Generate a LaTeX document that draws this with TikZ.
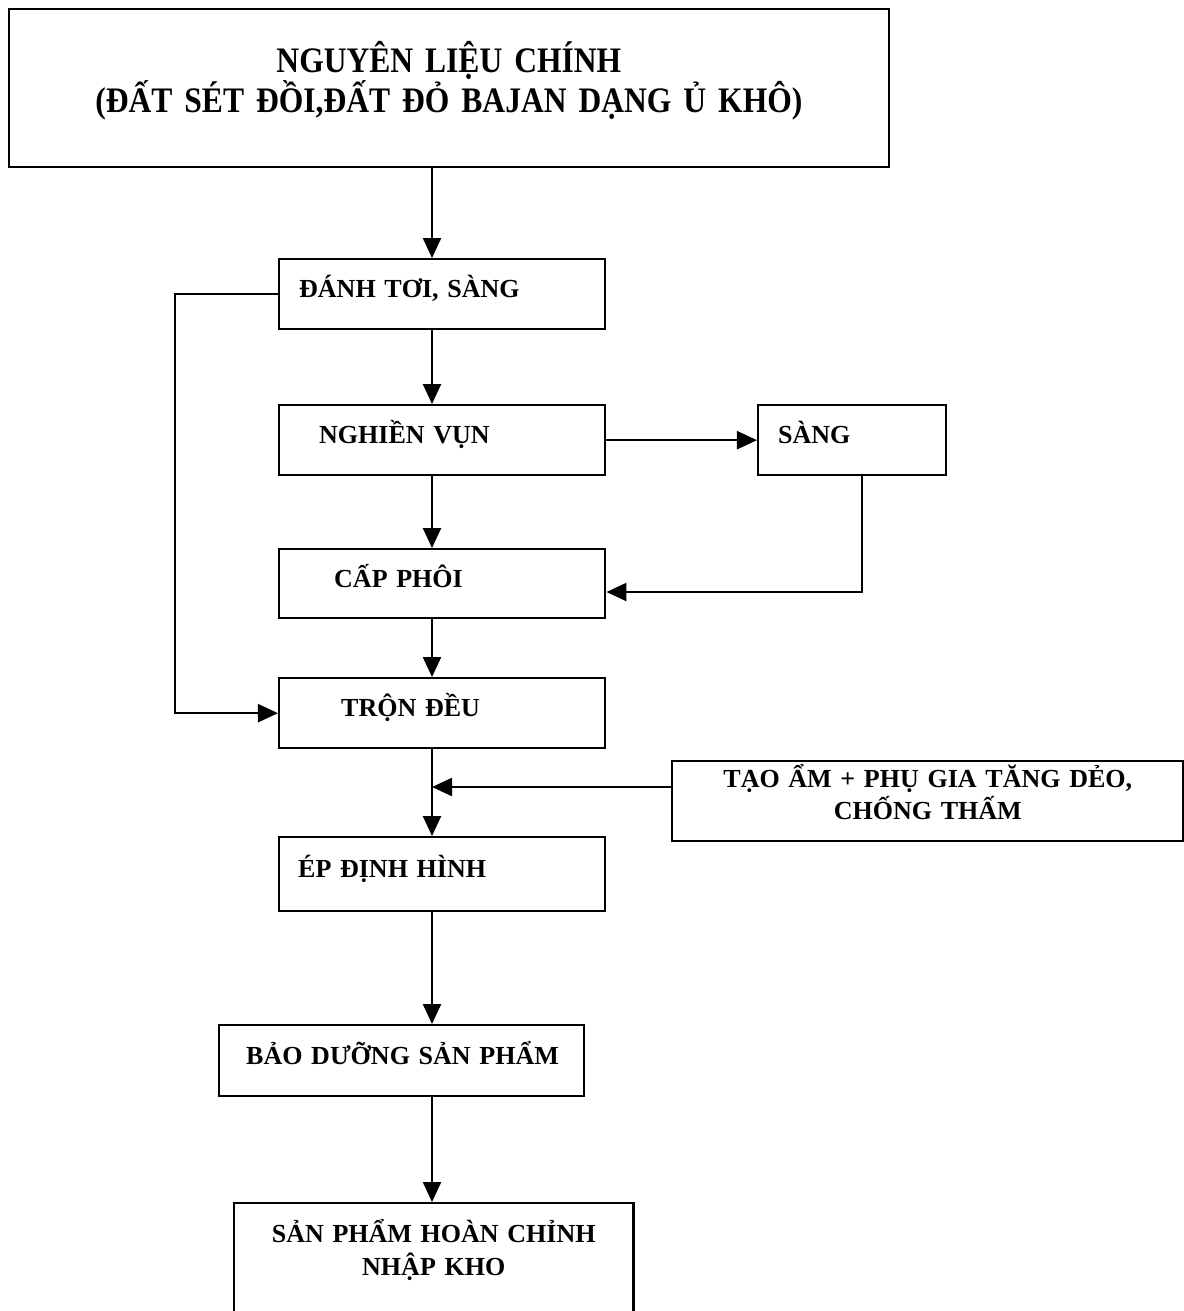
\documentclass[tikz,border=0pt]{standalone}
\usepackage{fontspec}
\setmainfont{Liberation Serif}
\newfontfamily\headfont{Liberation Serif}[FakeStretch=0.88]
\usetikzlibrary{arrows.meta,calc}

\begin{document}
\begin{tikzpicture}[
  x=0.01cm,
  y=-0.01cm,
  >={Triangle[length=2.0mm,width=1.8mm]},
  flow/.style={->,line width=0.65pt},
  stepbox/.style={draw,line width=0.65pt,anchor=north west,
    inner xsep=0pt,inner ysep=0pt,align=left,
    font=\bfseries\fontsize{7.4}{8}\selectfont,
    text height=0.2cm,text depth=0.13cm},
  twoline/.style={align=center}
]
\useasboundingbox (0,0) rectangle (1184,1311);
\clip (0,0) rectangle (1184,1311);

% Raw material box at the top.
\node[stepbox,twoline,font=\headfont\bfseries\fontsize{10.2}{11.6}\selectfont,
  text width=8.79cm,minimum height=1.58cm,text height=0.25cm,text depth=0.57cm]
  (raw) at (8,8) {NGUYÊN LIỆU CHÍNH\\(ĐẤT SÉT ĐỒI,ĐẤT ĐỎ BAJAN DẠNG Ủ KHÔ)};

% Main line of steps.
\node[stepbox,text width=3.26cm,minimum height=0.70cm] (loosen) at (278,258)
  {\hspace*{0.20cm}ĐÁNH TƠI, SÀNG};
\node[stepbox,text width=3.26cm,minimum height=0.70cm] (grind) at (278,404)
  {\hspace*{0.40cm}NGHIỀN VỤN};
\node[stepbox,text width=1.88cm,minimum height=0.70cm] (sieve) at (757,404)
  {\hspace*{0.20cm}SÀNG};
\node[stepbox,text width=3.26cm,minimum height=0.69cm] (batch) at (278,548)
  {\hspace*{0.55cm}CẤP PHÔI};
\node[stepbox,text width=3.26cm,minimum height=0.70cm] (mix) at (278,677)
  {\hspace*{0.62cm}TRỘN ĐỀU};
\node[stepbox,twoline,text width=5.11cm,minimum height=0.80cm,
  text depth=0.47cm] (additive) at (671,760)
  {TẠO ẨM + PHỤ GIA TĂNG DẺO,\\CHỐNG THẤM};
\node[stepbox,text width=3.26cm,minimum height=0.74cm] (press) at (278,836)
  {\hspace*{0.19cm}ÉP ĐỊNH HÌNH};
\node[stepbox,text width=3.65cm,minimum height=0.71cm] (cure) at (218,1024)
  {\hspace*{0.27cm}BẢO DƯỠNG SẢN PHẨM};
\node[stepbox,twoline,font=\bfseries\fontsize{7.4}{9.3}\selectfont,
  text width=3.99cm,minimum height=1.30cm,text depth=0.71cm] (store) at (233,1202)
  {SẢN PHẨM HOÀN CHỈNH\\NHẬP KHO};

% Helper points for the connectors.
\coordinate (spine) at (432,0);
\coordinate (bypass) at (175,0);
\coordinate (sievedrop) at (862,592);
\coordinate (addin) at (432,787);

% Vertical flow.
\draw[flow] (raw.south -| spine) -- (loosen.north -| spine);
\draw[flow] (loosen.south -| spine) -- (grind.north -| spine);
\draw[flow] (grind.south -| spine) -- (batch.north -| spine);
\draw[flow] (batch.south -| spine) -- (mix.north -| spine);
\draw[flow] (mix.south -| spine) -- (press.north -| spine);
\draw[flow] (press.south -| spine) -- (cure.north -| spine);
\draw[flow] (cure.south -| spine) -- (store.north -| spine);

% Side loops.
\draw[flow] (grind.east) -- (sieve.west);
\draw[flow] (sieve.south -| sievedrop) -- (sievedrop) -- (sievedrop -| batch.east);
\draw[flow] (loosen.west) -- (loosen.west -| bypass)
  -- (mix.west -| bypass) -- (mix.west);
\draw[flow] (additive.west |- addin) -- (addin);

\end{tikzpicture}
\end{document}
